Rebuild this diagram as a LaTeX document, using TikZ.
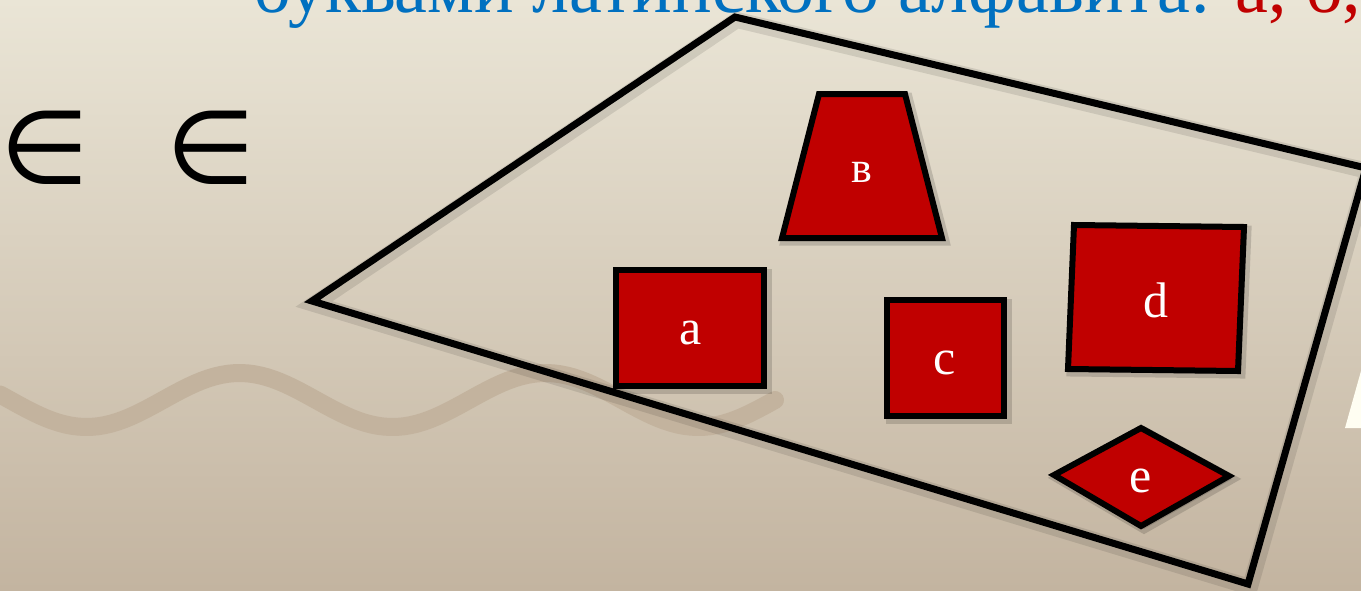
\documentclass[tikz,border=0pt]{standalone}
\usepackage{fontspec}
\setmainfont{Liberation Serif}
\newfontfamily\symfont{DejaVu Sans}
\usetikzlibrary{positioning}
\definecolor{titleblue}{HTML}{0070C0}
\definecolor{darkred}{HTML}{C00000}
\definecolor{bgtop}{HTML}{EAE5D6}
\definecolor{bgbottom}{HTML}{C3B4A0}
\definecolor{wavecol}{HTML}{C3B39E}
\definecolor{cream}{HTML}{FFFEF2}

\begin{document}
\begin{tikzpicture}[x=1pt,y=-1pt,
    figure/.style={draw=black,line width=6pt,fill=darkred,line join=miter},
    figshadow/.style={black,opacity=.15,line width=9pt,fill=black,fill opacity=.15},
    letter/.style={text=white,inner sep=0pt,font=\fontsize{50}{50}\selectfont}]
  \useasboundingbox (0,0) rectangle (1361,590);
  \clip (0,0) rectangle (1361,590);
  \fill[top color=bgtop,bottom color=bgbottom] (0,0) rectangle (1361,590);
  % wavy band
  \draw[wavecol,line width=18pt,line cap=round] plot[domain=0:775,samples=120] (\x,{400+27*sin((\x-10)*1.17647)});
  % title, cut at the top
  \node[anchor=base west,inner sep=0pt,text=titleblue,font=\fontsize{74}{78}\selectfont] (title) at (253,12) {буквами латинского алфавита: \textcolor{darkred}{a, б,}};
  % element signs
  \node[anchor=base,inner sep=0pt,font=\symfont\fontsize{102}{102}\selectfont] (in1) at (45,183) {∈};
  \node[anchor=base,inner sep=0pt,font=\symfont\fontsize{102}{102}\selectfont] (in2) at (211,183) {∈};
  % plane
  \draw[black,opacity=.10,line width=16pt,line join=miter,xshift=2pt,yshift=-3pt] (312,301) -- (735,17) -- (1366,168) -- (1248,584) -- cycle;
  \draw[line width=7pt,line join=miter] (312,301) -- (735,17) -- (1366,168) -- (1248,584) -- cycle;
  % piece at the right edge
  \fill[cream] (1361,371) -- (1345,428) -- (1361,428) -- cycle;
  % shadows of the figures
  \begin{scope}[xshift=3pt,yshift=-3pt]
    \draw[figshadow] (616,270) rectangle (764,386);
    \draw[figshadow] (819,94) -- (905,94) -- (942,238) -- (782,238) -- cycle;
    \draw[figshadow] (887,300) rectangle (1004,416);
    \draw[figshadow] (1074,225) -- (1244,227) -- (1238,371) -- (1068,369) -- cycle;
    \draw[figshadow] (1054,475) -- (1141,428) -- (1229,476) -- (1141,526) -- cycle;
  \end{scope}
  % figures
  \draw[figure] (616,270) rectangle (764,386);
  \draw[figure] (819,94) -- (905,94) -- (942,238) -- (782,238) -- cycle;
  \draw[figure] (887,300) rectangle (1004,416);
  \draw[figure] (1074,225) -- (1244,227) -- (1238,371) -- (1068,369) -- cycle;
  \draw[figure] (1054,475) -- (1141,428) -- (1229,476) -- (1141,526) -- cycle;
  \node[letter] (a) at (691,333) {a};
  \node[letter,font=\fontsize{44}{44}\selectfont] (b) at (862,172) {в};
  \node[letter] (c) at (945,363) {c};
  \node[letter] (d) at (1156,300) {d};
  \node[letter] (e) at (1141,481) {e};
\end{tikzpicture}
\end{document}
